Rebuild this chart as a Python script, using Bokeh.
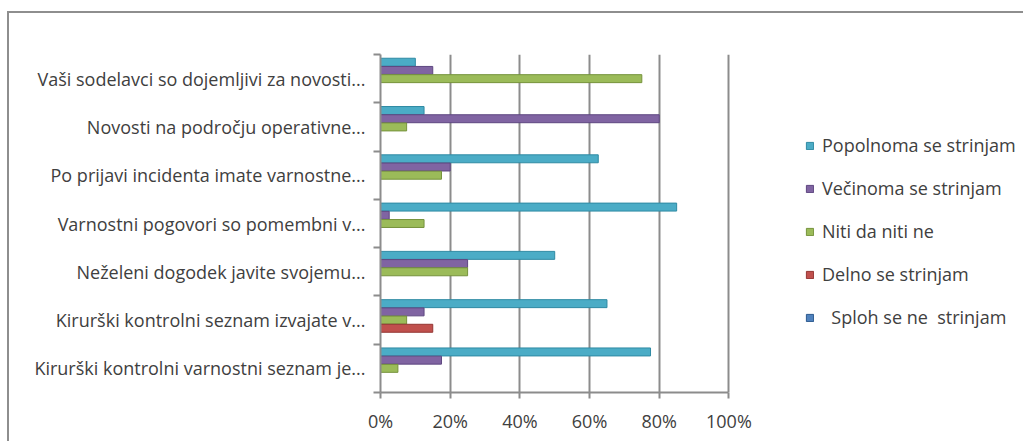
from bokeh.plotting import figure
from bokeh.models import Range1d, FixedTicker
from bokeh.embed import file_html
from bokeh.resources import INLINE

categories = [
    "Vaši sodelavci so dojemljivi za novosti...",
    "Novosti na področju operativne...",
    "Po prijavi incidenta imate varnostne...",
    "Varnostni pogovori so pomembni v...",
    "Neželeni dogodek javite svojemu...",
    "Kirurški kontrolni seznam izvajate v...",
    "Kirurški kontrolni varnostni seznam je...",
]
series_names = [
    "Popolnoma se strinjam",
    "Večinoma se strinjam",
    "Niti da niti ne",
    "Delno se strinjam",
    "  Sploh se ne  strinjam",
]
popolnoma = [10, 12.5, 62.5, 85, 50, 65, 77.5]
vecinoma = [15, 80, 20, 2.5, 25, 12.5, 17.5]
niti = [75, 7.5, 17.5, 12.5, 25, 7.5, 5]
delno = [0, 0, 0, 0, 0, 15, 0]
sploh = [0, 0, 0, 0, 0, 0, 0]
x_ticks = [0, 20, 40, 60, 80, 100]
x_tick_labels = ["0%", "20%", "40%", "60%", "80%", "100%"]

colors = ["#4BACC6", "#8064A2", "#9BBB59", "#C0504D", "#4F81BD"]
edges = ["#2f8aa3", "#5e4780", "#76933c", "#943633", "#2c5a8f"]
offsets = [0.34, 0.17, 0.0, -0.17, -0.34]
series = [popolnoma, vecinoma, niti, delno, sploh]

n = len(categories)
centers = [n - k - 0.5 for k in range(n)]

# frame spans the legend area too; axis/grid are bounded to 0..100 %
p = figure(width=1016, height=430, output_backend="svg", toolbar_location=None,
           x_range=Range1d(0, 183.4), y_range=Range1d(0, n))
p.min_border_left = 371
p.min_border_right = 6
p.min_border_top = 41
p.min_border_bottom = 51
p.outline_line_color = None
p.background_fill_color = "white"
p.border_fill_color = "white"
p.styles = {"border-top": "2px solid #8e8e8e", "border-left": "2px solid #8e8e8e",
            "margin-top": "11px", "margin-left": "7px"}

for vals, name, col, edge, off in zip(series, series_names, colors, edges, offsets):
    ys = [c + off for c in centers]
    p.hbar(y=ys, left=0, right=vals, height=0.165, fill_color=col,
           line_color=edge, line_width=1, legend_label=name)

# x axis
p.xaxis.bounds = (0, 100)
p.xaxis.ticker = FixedTicker(ticks=x_ticks)
p.xaxis.major_label_overrides = {t: l for t, l in zip(x_ticks, x_tick_labels)}
p.xaxis.axis_line_color = "#8c8c8c"
p.xaxis.axis_line_width = 2
p.xaxis.major_tick_line_color = "#8c8c8c"
p.xaxis.major_tick_line_width = 2
p.xaxis.major_tick_out = 6
p.xaxis.major_tick_in = 0
p.xaxis.minor_tick_line_color = None
p.xaxis.major_label_standoff = 10
p.xaxis.major_label_text_font = "Open Sans"
p.xaxis.major_label_text_font_size = "18px"
p.xaxis.major_label_text_color = "#404040"

# y axis
p.yaxis.ticker = FixedTicker(ticks=centers, minor_ticks=list(range(n + 1)))
p.yaxis.major_label_overrides = {c: lab for c, lab in zip(centers, categories)}
p.yaxis.axis_line_color = "#8c8c8c"
p.yaxis.axis_line_width = 2
p.yaxis.major_tick_line_color = None
p.yaxis.minor_tick_line_color = "#8c8c8c"
p.yaxis.minor_tick_line_width = 2
p.yaxis.minor_tick_out = 7
p.yaxis.minor_tick_in = 0
p.yaxis.major_label_standoff = 8
p.yaxis.major_label_text_font = "Open Sans"
p.yaxis.major_label_text_font_size = "18px"
p.yaxis.major_label_text_color = "#404040"

# grid
p.xgrid.ticker = FixedTicker(ticks=x_ticks[1:])
p.xgrid.grid_line_color = "#8c8c8c"
p.xgrid.grid_line_width = 2
p.ygrid.grid_line_color = None

# legend
lg = p.legend[0]
lg.location = (425, 63)
lg.border_line_color = None
lg.background_fill_alpha = 0
lg.padding = 0
lg.margin = 0
lg.spacing = 19
lg.glyph_width = 9
lg.glyph_height = 9
lg.label_height = 20
lg.label_standoff = 8
lg.label_text_font = "Open Sans"
lg.label_text_font_size = "18px"
lg.label_text_color = "#404040"

open("out.html", "w").write(file_html(p, INLINE))
